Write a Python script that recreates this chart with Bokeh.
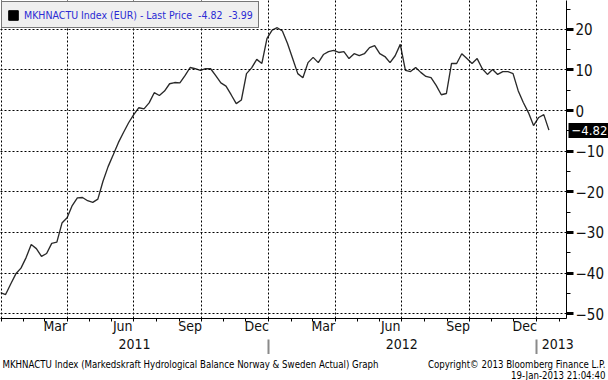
import pandas as pd
from bokeh.plotting import figure
from bokeh.layouts import column
from bokeh.models import (Range1d, FixedTicker, SingleIntervalTicker, DatetimeTickFormatter,
                          DatetimeAxis, LinearAxis, Legend, LegendItem)
from bokeh.core.properties import value
from bokeh.embed import file_html
from bokeh.resources import INLINE

# ---------------- data (weekly, Fridays) ----------------
first_week = "2010-12-31"
values = [
    -44.8, -45.3, -42.7, -40.2, -38.8, -36.2, -33.0, -34.0, -35.9, -35.2,
    -32.7, -32.4, -27.7, -26.4, -23.4, -21.5, -21.4, -22.2, -22.6, -21.8,
    -17.4, -13.8, -10.9, -7.9, -5.4, -3.0, -1.0, 0.7, 0.4, 1.9,
    4.4, 3.7, 4.8, 6.6, 6.9, 6.8, 8.6, 10.6, 10.3, 9.9,
    10.3, 10.3, 8.6, 6.8, 6.0, 3.9, 1.7, 2.6, 9.1, 10.5,
    12.6, 11.6, 17.8, 19.8, 20.4, 19.6, 16.5, 12.8, 9.1, 8.1,
    11.8, 13.1, 11.8, 13.8, 14.5, 14.8, 14.3, 14.5, 12.8, 14.0,
    13.5, 14.0, 15.5, 16.0, 14.0, 13.3, 11.8, 13.5, 16.3, 9.9,
    9.6, 10.6, 9.4, 8.4, 8.1, 6.2, 3.9, 4.2, 11.6, 11.6,
    14.0, 12.8, 11.6, 12.8, 10.3, 8.9, 10.1, 8.9, 9.6, 9.6,
    9.1, 4.9, 2.0, -0.5, -3.7, -1.7, -1.0, -4.82,
]
dates = pd.date_range(first_week, periods=len(values), freq="7D")

last_price = -4.82
net_change = -3.99
series_name = "MKHNACTU Index (EUR) - Last Price"
footer_left = "MKHNACTU Index (Markedskraft Hydrological Balance Norway & Sweden Actual) Graph"
footer_right_1 = "Copyright\u00a9 2013 Bloomberg Finance L.P."
footer_right_2 = "19-Jan-2013 21:04:40"

# axis positions
month_label_dates = ["2011-03-16", "2011-06-16", "2011-09-16", "2011-12-16",
                     "2012-03-16", "2012-06-16", "2012-09-16", "2012-12-16"]
month_start_dates = pd.date_range("2011-01-01", "2013-02-01", freq="MS")
quarter_start_dates = pd.date_range("2011-01-01", "2013-01-01", freq="QS")
year_label_dates = ["2011-07-02", "2012-07-01", "2013-01-30"]
year_start_dates = ["2012-01-01", "2013-01-01"]
x_start, x_end = "2010-12-31 01:00", "2013-02-11"
y_start, y_end = -51.2, 27.1


def ms(d):
    return pd.Timestamp(d).value / 1e6


FONT = "Liberation Sans Narrow, DejaVu Sans Condensed, Liberation Sans, sans-serif"
FRAME_W, FRAME_H = 566, 318
TOTAL_W = 608
BOTTOM_AXES_H = 36
FOOT_H = 26
RIGHT_AXIS_EXT = 40  # measured extent of the right value axis (ticks + labels)

p = figure(
    output_backend="svg", toolbar_location=None,
    frame_width=FRAME_W, frame_height=FRAME_H,
    min_border_left=0, min_border_right=TOTAL_W - FRAME_W, min_border_top=0,
    min_border_bottom=BOTTOM_AXES_H,
    x_axis_type="datetime", y_axis_location="right",
    x_range=Range1d(pd.Timestamp(x_start), pd.Timestamp(x_end)),
    y_range=Range1d(y_start, y_end),
    background_fill_color="white", border_fill_color="white",
)
p.outline_line_color = None

# main line
p.line(dates, values, line_color="#2a2a2a", line_width=1.35)

# ---------------- x axis (months) ----------------
xa = p.xaxis[0]
xa.ticker = FixedTicker(ticks=[ms(d) for d in month_label_dates],
                        minor_ticks=[ms(d) for d in month_start_dates])
xa.formatter = DatetimeTickFormatter(days="%b", months="%b", years="%b")
xa.axis_line_color = "black"
xa.major_tick_line_color = None
xa.major_tick_out = 0
xa.major_tick_in = 0
xa.minor_tick_line_color = "black"
xa.minor_tick_out = 3
xa.minor_tick_in = 0
xa.major_label_standoff = -4
xa.major_label_text_font = FONT
xa.major_label_text_font_size = "14px"
xa.major_label_text_color = "#111111"

# second axis: years + separators
year_axis = DatetimeAxis(
    ticker=FixedTicker(ticks=[ms(d) for d in year_label_dates],
                       minor_ticks=[ms(d) for d in year_start_dates]),
    formatter=DatetimeTickFormatter(days="%Y", months="%Y", years="%Y"),
    axis_line_color=None, major_tick_line_color=None, major_tick_out=0, major_tick_in=0,
    minor_tick_line_color="#8a8a8a", minor_tick_line_width=2, minor_tick_out=18, minor_tick_in=-3,
    major_label_standoff=-16, major_label_text_font=FONT, major_label_text_font_size="14px",
    major_label_text_color="#111111",
)
p.add_layout(year_axis, "below")

# ---------------- y axis (right) ----------------
ya = p.yaxis[0]
ya.ticker = SingleIntervalTicker(interval=10, num_minor_ticks=2)
ya.axis_line_color = "black"
ya.major_tick_line_color = "black"
ya.major_tick_line_width = 3
ya.major_tick_out = 7
ya.major_tick_in = 0
ya.minor_tick_line_color = "black"
ya.minor_tick_out = 4
ya.minor_tick_in = 0
ya.major_label_standoff = 2
ya.major_label_text_font = FONT
ya.major_label_text_font_size = "15px"
ya.major_label_text_color = "#111111"

# last-price tag: a second right axis whose single tick is the black box
tag_axis = LinearAxis(
    ticker=FixedTicker(ticks=[last_price]),
    axis_line_color=None,
    major_tick_line_color="black", major_tick_line_width=15, major_tick_line_cap="butt",
    major_tick_in=RIGHT_AXIS_EXT - 2, major_tick_out=4,
    minor_tick_line_color=None, minor_tick_out=0, minor_tick_in=0,
    major_label_standoff=-39,
    major_label_text_color="white", major_label_text_font=FONT,
    major_label_text_font_size="13px",
)
p.add_layout(tag_axis, "right")

# ---------------- grids ----------------
p.xgrid.ticker = FixedTicker(ticks=[ms(d) for d in quarter_start_dates])
for g in (p.xgrid[0], p.ygrid[0]):
    g.grid_line_color = "black"
    g.grid_line_dash = "2 2"
    g.grid_line_width = 1
    g.level = "overlay"

# ---------------- legend ----------------
sq = p.rect(x=[dates[-1]], y=[values[-1]], width=1, height=1, color="black", visible=False)
legend_text = (f"{series_name}\u00a0\u00a0{last_price:.2f}"
               f"\u00a0\u00a0{net_change:.2f}")
legend = Legend(
    items=[LegendItem(label=legend_text, renderers=[sq])],
    location="top_left", margin=1, padding=5, spacing=0,
    label_standoff=5, glyph_width=12, glyph_height=12, label_height=15,
    background_fill_color="#efefef", background_fill_alpha=1.0,
    border_line_color="black", border_line_width=1,
    inactive_fill_alpha=0.0,
    label_text_color="#2b2bd4", label_text_font=FONT, label_text_font_size="10.5px",
)
p.add_layout(legend)

# ---------------- footer strip ----------------
foot = figure(
    output_backend="svg", toolbar_location=None,
    frame_width=TOTAL_W, frame_height=FOOT_H,
    min_border_left=0, min_border_right=0, min_border_top=0, min_border_bottom=0,
    x_range=Range1d(0, TOTAL_W), y_range=Range1d(0, FOOT_H),
    x_axis_location=None, y_axis_location=None,
)
foot.outline_line_color = None
foot.grid.visible = False
foot.text(x=[2], y=[FOOT_H - 10], text=[footer_left], text_font=value(FONT),
          text_font_size="9.6px", text_color="black", text_align="left",
          text_baseline="alphabetic")
foot.text(x=[TOTAL_W - 3, TOTAL_W - 3], y=[FOOT_H - 10, FOOT_H - 21],
          text=[footer_right_1, footer_right_2], text_font=value(FONT),
          text_font_size="9.6px", text_color="black", text_align="right",
          text_baseline="alphabetic")

layout = column(p, foot, spacing=0)
open("out.html", "w").write(file_html(layout, INLINE))
